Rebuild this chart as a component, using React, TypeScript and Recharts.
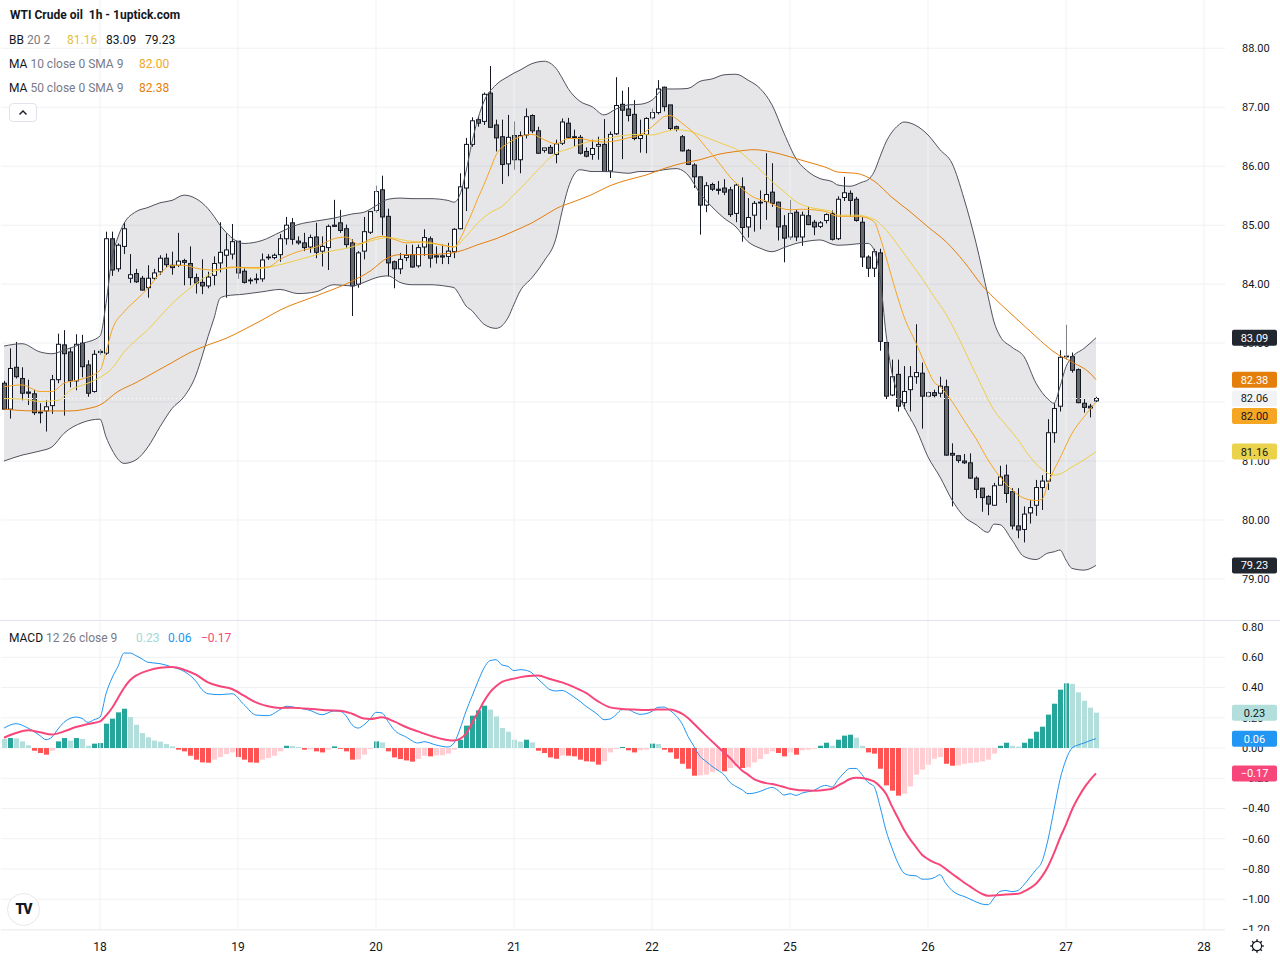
import React from 'react';
import { ComposedChart, Bar, Line, Area, XAxis, YAxis, CartesianGrid, ReferenceLine } from 'recharts';

// ---------- candles (hourly, index 0..182) ----------
const opens = [
  82.32, 81.88, 82.59, 82.40, 82.17, 82.14, 81.83, 81.85, 81.94, 82.38,
  82.97, 82.85, 82.36, 83.00, 82.63, 82.18, 82.86, 82.83, 84.77, 84.26,
  84.64, 84.10, 84.18, 84.10, 83.94, 84.10, 84.21, 84.44, 84.32, 84.32,
  84.40, 84.35, 84.11, 84.03, 83.97, 84.15, 84.36, 84.49, 84.51, 84.73,
  84.22, 84.07, 84.08, 84.09, 84.46, 84.45, 84.50, 84.77, 85.04, 84.73,
  84.70, 84.63, 84.80, 84.56, 84.62, 85.00, 85.04, 84.94, 84.70, 84.00,
  84.56, 84.88, 85.25, 85.60, 85.15, 84.38, 84.26, 84.45, 84.50, 84.31,
  84.63, 84.77, 84.48, 84.48, 84.47, 84.55, 84.94, 85.63, 86.37, 86.79,
  86.76, 87.24, 86.70, 86.50, 86.04, 86.52, 86.11, 86.53, 86.86, 86.60,
  86.27, 86.32, 86.20, 86.39, 86.73, 86.50, 86.49, 86.25, 86.20, 86.34,
  86.37, 85.92, 86.55, 87.05, 86.97, 86.88, 86.47, 86.54, 86.82, 86.91,
  87.34, 87.04, 86.67, 86.50, 86.27, 86.02, 85.82, 85.34, 85.69, 85.61,
  85.63, 85.60, 85.20, 85.65, 84.97, 85.17, 85.38, 85.40, 85.56, 85.39,
  84.99, 84.80, 85.22, 84.80, 85.16, 85.05, 84.98, 85.08, 85.20, 84.77,
  85.47, 85.54, 85.44, 85.05, 84.46, 84.27, 84.53, 83.01, 82.12, 82.47,
  81.99, 82.21, 82.43, 82.49, 82.10, 82.16, 82.15, 82.26, 81.13, 81.09,
  81.00, 80.97, 80.71, 80.54, 80.40, 80.25, 80.59, 80.76, 80.48, 79.90,
  79.84, 80.12, 80.25, 80.55, 80.66, 81.48, 81.93, 82.78, 82.77, 82.55,
  81.98, 81.93, 82.02,
];
const highs = [
  82.36, 82.91, 83.02, 82.59, 82.38, 82.21, 81.98, 82.03, 82.46, 83.16,
  83.22, 82.92, 83.15, 83.14, 82.71, 82.88, 82.90, 84.89, 84.89, 84.69,
  85.04, 84.51, 84.26, 84.14, 84.32, 84.26, 84.49, 84.52, 84.55, 84.87,
  84.43, 84.64, 84.18, 84.42, 84.21, 84.47, 85.05, 84.86, 85.02, 84.73,
  84.29, 84.11, 84.18, 84.52, 84.51, 84.52, 84.85, 85.14, 85.12, 84.81,
  84.87, 84.84, 85.04, 84.81, 85.01, 85.43, 85.26, 85.01, 84.76, 84.56,
  85.14, 85.24, 85.67, 85.84, 85.28, 84.40, 84.53, 84.67, 84.67, 84.67,
  84.93, 84.81, 84.64, 84.68, 84.70, 84.95, 85.88, 86.48, 86.83, 86.84,
  87.25, 87.70, 86.79, 86.79, 86.87, 86.76, 86.59, 86.98, 86.88, 86.67,
  86.31, 86.36, 86.45, 86.81, 86.82, 86.62, 86.53, 86.32, 86.45, 86.50,
  86.80, 86.59, 87.51, 87.28, 87.34, 87.12, 86.79, 86.83, 86.98, 87.46,
  87.35, 87.04, 86.69, 86.53, 86.29, 86.05, 85.82, 85.73, 85.72, 85.75,
  85.78, 85.65, 85.71, 85.81, 85.46, 85.41, 85.59, 86.22, 86.05, 85.40,
  85.17, 85.43, 85.26, 85.23, 85.31, 85.09, 85.07, 85.20, 85.25, 85.49,
  85.82, 85.59, 85.48, 85.14, 84.49, 84.60, 84.60, 83.01, 82.72, 82.72,
  82.61, 82.61, 83.32, 82.67, 82.18, 82.21, 82.43, 82.38, 81.30, 81.09,
  81.12, 81.13, 80.74, 80.54, 80.42, 80.63, 80.92, 80.94, 80.54, 80.54,
  80.23, 80.34, 80.68, 80.76, 81.71, 81.98, 82.88, 83.31, 82.84, 82.57,
  82.06, 81.97, 82.09,
];
const lows = [
  81.87, 81.72, 82.40, 82.03, 81.95, 81.78, 81.64, 81.50, 81.80, 82.32,
  81.77, 82.25, 82.20, 82.42, 82.09, 82.16, 82.80, 82.80, 84.14, 84.21,
  84.51, 84.02, 84.02, 83.89, 83.77, 84.07, 84.16, 84.29, 84.16, 84.29,
  83.98, 83.98, 83.84, 83.83, 83.93, 83.98, 84.20, 83.77, 84.42, 84.09,
  84.01, 84.00, 84.01, 84.04, 84.41, 84.42, 84.38, 84.67, 84.67, 84.67,
  84.56, 84.53, 84.44, 84.30, 84.24, 84.97, 84.87, 84.62, 83.46, 83.94,
  84.42, 84.85, 85.21, 84.83, 84.13, 83.93, 84.17, 84.39, 84.28, 84.28,
  84.48, 84.28, 84.35, 84.34, 84.34, 84.44, 84.93, 85.24, 86.33, 86.67,
  86.70, 86.65, 86.25, 85.70, 85.83, 85.94, 85.88, 86.47, 86.56, 86.21,
  86.23, 86.21, 86.05, 86.36, 86.47, 86.33, 86.20, 86.15, 86.11, 86.11,
  85.91, 85.80, 86.53, 86.12, 86.76, 86.44, 86.23, 86.22, 86.79, 86.88,
  86.93, 86.60, 86.59, 86.25, 86.02, 85.63, 84.84, 85.22, 85.58, 85.52,
  85.51, 85.14, 85.05, 84.72, 84.79, 84.89, 84.93, 85.09, 85.31, 84.74,
  84.37, 84.75, 84.73, 84.65, 85.00, 84.83, 84.95, 85.03, 84.74, 84.75,
  85.41, 85.14, 85.06, 84.29, 84.12, 84.12, 82.87, 82.05, 82.10, 81.84,
  81.88, 81.84, 82.31, 81.55, 82.08, 82.08, 82.08, 81.09, 80.23, 80.97,
  80.95, 80.70, 80.37, 80.14, 80.08, 80.24, 80.59, 80.29, 79.84, 79.69,
  79.62, 79.94, 80.07, 80.17, 80.51, 81.31, 81.84, 82.72, 82.50, 81.98,
  81.82, 81.74, 82.00,
];
const closes = [
  81.88, 82.57, 82.43, 82.15, 82.15, 81.82, 81.82, 81.92, 82.38, 82.98,
  82.82, 82.36, 82.98, 82.60, 82.15, 82.81, 82.84, 84.77, 84.24, 84.66,
  84.94, 84.16, 84.04, 83.90, 84.10, 84.19, 84.44, 84.33, 84.28, 84.39,
  84.37, 84.11, 84.02, 83.97, 84.12, 84.35, 84.54, 84.58, 84.72, 84.19,
  84.03, 84.06, 84.09, 84.41, 84.45, 84.49, 84.77, 85.00, 84.76, 84.70,
  84.62, 84.79, 84.54, 84.64, 84.98, 84.98, 84.91, 84.67, 83.97, 84.53,
  84.89, 85.23, 85.57, 85.14, 84.36, 84.26, 84.42, 84.49, 84.29, 84.62,
  84.79, 84.44, 84.46, 84.46, 84.56, 84.93, 85.65, 86.37, 86.77, 86.73,
  87.22, 86.66, 86.48, 86.03, 86.49, 86.11, 86.52, 86.84, 86.60, 86.22,
  86.31, 86.22, 86.38, 86.75, 86.49, 86.49, 86.22, 86.17, 86.30, 86.37,
  85.91, 86.54, 87.03, 86.95, 86.86, 86.47, 86.52, 86.81, 86.91, 87.31,
  87.01, 86.64, 86.63, 86.26, 86.03, 85.82, 85.34, 85.67, 85.61, 85.59,
  85.56, 85.18, 85.68, 84.96, 85.13, 85.37, 85.39, 85.52, 85.37, 84.97,
  84.78, 85.20, 84.80, 85.17, 85.01, 84.97, 85.04, 85.18, 84.76, 85.44,
  85.55, 85.42, 85.08, 84.46, 84.27, 84.55, 83.03, 82.10, 82.43, 81.93,
  82.18, 82.43, 82.50, 82.10, 82.16, 82.11, 82.27, 81.10, 81.10, 81.01,
  80.97, 80.71, 80.52, 80.38, 80.27, 80.58, 80.73, 80.45, 79.90, 79.83,
  80.10, 80.21, 80.55, 80.66, 81.48, 81.89, 82.76, 82.77, 82.54, 81.99,
  81.91, 81.90, 82.06,
];

// ---------- Bollinger bands (20, 2), read at these candle indices ----------
const bbIndex = [
  0, 3, 6, 8, 10, 13, 16, 17, 18, 19, 20, 22, 24, 26, 28, 30, 32, 33, 34, 35, 36, 37, 40, 43, 46, 49,
  52, 55, 58, 60, 62, 64, 66, 68, 71, 74, 75, 76, 77, 78, 79, 80, 82, 84, 85, 86, 88, 90, 92, 93, 94,
  96, 98, 100, 102, 104, 106, 108, 110, 112, 114, 116, 118, 120, 122, 124, 126, 128, 130, 132, 134,
  136, 138, 139, 141, 143, 144, 145, 146, 147, 148, 149, 150, 152, 154, 156, 158, 160, 162, 164, 165,
  166, 168, 170, 172, 174, 175, 176, 177, 178, 180, 182,
];
const bbUpper = [
  82.95, 82.99, 82.85, 82.82, 82.88, 82.99, 83.12, 83.67, 84.44, 84.80, 85.03, 85.23, 85.30, 85.38, 85.42, 85.51, 85.45, 85.38, 85.28, 85.15, 85.00, 84.88, 84.69, 84.74, 84.88, 85.01,
  85.07, 85.12, 85.19, 85.22, 85.33, 85.44, 85.46, 85.45, 85.45, 85.42, 85.39, 85.52, 85.91, 86.41, 86.81, 87.10, 87.38, 87.52, 87.58, 87.63, 87.74, 87.78, 87.66, 87.50, 87.32,
  87.10, 87.01, 86.87, 86.97, 87.04, 87.05, 87.12, 87.31, 87.31, 87.32, 87.44, 87.48, 87.55, 87.56, 87.46, 87.32, 87.04, 86.56, 86.13, 85.91,
  85.79, 85.74, 85.68, 85.66, 85.73, 85.77, 85.90, 86.16, 86.41, 86.58, 86.69, 86.75, 86.69, 86.53, 86.28, 86.05, 85.45, 84.70, 83.80, 83.36,
  83.12, 82.93, 82.77, 82.32, 82.05, 81.98, 82.26, 82.60, 82.76, 82.91, 83.09,
];
const bbLower = [
  81.00, 81.10, 81.17, 81.24, 81.47, 81.65, 81.71, 81.41, 81.19, 81.03, 80.96, 81.02, 81.24, 81.58, 81.89, 82.09, 82.46, 82.77, 83.11, 83.42, 83.76, 83.80, 83.83, 83.87, 83.91, 83.84,
  83.87, 83.99, 83.97, 84.03, 84.11, 84.14, 84.03, 83.99, 83.99, 83.96, 83.94, 83.80, 83.63, 83.55, 83.43, 83.32, 83.25, 83.43, 83.66, 83.88, 84.11, 84.39, 84.78, 85.23, 85.62,
  85.94, 85.91, 85.91, 85.90, 85.88, 85.91, 85.91, 85.94, 85.96, 85.85, 85.54, 85.31, 85.12, 84.97, 84.72, 84.61, 84.55, 84.62, 84.69, 84.73,
  84.75, 84.68, 84.66, 84.67, 84.69, 84.69, 84.58, 84.12, 83.16, 82.49, 82.15, 81.92, 81.55, 81.07, 80.73, 80.34, 80.06, 79.92, 79.79, 79.93,
  79.92, 79.66, 79.38, 79.33, 79.44, 79.46, 79.49, 79.32, 79.18, 79.15, 79.23,
];
const bbBasisPts = [
  [0, 82.06], [3, 82.05], [6, 82.01], [9, 82.03], [11, 82.20], [14, 82.32], [16, 82.42], [18, 82.57], [20, 82.85], [22, 83.05],
  [24, 83.23], [26, 83.45], [28, 83.67], [30, 83.85], [32, 84.01], [34, 84.15], [36, 84.25], [39, 84.28], [42, 84.26], [46, 84.33],
  [50, 84.44], [54, 84.55], [58, 84.63], [61, 84.73], [64, 84.79], [67, 84.74], [70, 84.70], [73, 84.67], [75, 84.63], [77, 84.81],
  [79, 85.04], [81, 85.21], [83, 85.32], [85, 85.52], [87, 85.72], [89, 85.94], [92, 86.22], [94, 86.29], [96, 86.37], [98, 86.43],
  [100, 86.46], [102, 86.50], [104, 86.53], [106, 86.54], [108, 86.53], [110, 86.58], [112, 86.62], [114, 86.60], [116, 86.53],
  [118, 86.45], [120, 86.37], [122, 86.29], [124, 86.13], [126, 85.94], [128, 85.74], [130, 85.57], [132, 85.40], [134, 85.31],
  [136, 85.27], [138, 85.23], [139, 85.17], [142, 85.17], [145, 85.10], [147, 84.92], [149, 84.66], [151, 84.38], [153, 84.10],
  [155, 83.79], [157, 83.49], [159, 83.11], [161, 82.68], [163, 82.26], [165, 81.86], [167, 81.61], [169, 81.36], [171, 81.07],
  [173, 80.86], [175, 80.76], [176, 80.78], [178, 80.90], [180, 81.02], [182, 81.16],
];

// ---------- moving averages ----------
const ma10Pts = [
  [0, 82.26], [3, 82.29], [6, 82.18], [8, 82.18], [10, 82.32], [13, 82.39], [16, 82.54], [17, 82.85], [18, 83.22], [20, 83.53],
  [22, 83.73], [24, 83.93], [26, 84.18], [28, 84.32], [30, 84.32], [32, 84.27], [35, 84.24], [38, 84.29], [41, 84.28], [44, 84.29],
  [46, 84.42], [49, 84.55], [52, 84.63], [55, 84.77], [57, 84.80], [59, 84.68], [61, 84.76], [63, 84.81], [65, 84.76], [67, 84.70],
  [70, 84.72], [73, 84.66], [75, 84.63], [76, 84.76], [77, 84.98], [78, 85.21], [79, 85.46], [80, 85.69], [81, 85.94], [82, 86.19],
  [84, 86.39], [86, 86.50], [88, 86.54], [90, 86.45], [92, 86.38], [94, 86.47], [96, 86.47], [98, 86.43], [100, 86.41], [102, 86.43],
  [104, 86.48], [106, 86.53], [108, 86.67], [109, 86.76], [110, 86.84], [111, 86.86], [112, 86.81], [113, 86.73], [115, 86.56],
  [117, 86.32], [119, 86.08], [121, 85.82], [123, 85.62], [125, 85.47], [127, 85.41], [129, 85.31], [131, 85.26], [133, 85.27],
  [135, 85.26], [137, 85.23], [139, 85.15], [141, 85.15], [143, 85.14], [145, 85.06], [146, 84.80], [147, 84.46], [148, 84.10],
  [149, 83.76], [150, 83.45], [152, 83.00], [154, 82.54], [155, 82.34], [156, 82.26], [158, 82.01], [160, 81.69], [162, 81.38],
  [164, 81.02], [166, 80.73], [168, 80.51], [170, 80.37], [172, 80.33], [173, 80.35], [174, 80.62], [175, 80.85], [176, 81.05],
  [178, 81.47], [180, 81.75], [182, 82.00],
];
const ma50Pts = [
  [0, 81.88], [5, 81.85], [11, 81.85], [14, 81.89], [16, 81.95], [19, 82.18], [22, 82.33], [25, 82.50], [28, 82.67], [31, 82.84],
  [34, 82.97], [37, 83.08], [40, 83.23], [43, 83.39], [46, 83.56], [52, 83.80], [58, 84.05], [61, 84.22], [64, 84.45], [66, 84.50],
  [70, 84.50], [74, 84.52], [76, 84.56], [79, 84.67], [82, 84.77], [85, 84.90], [88, 85.04], [91, 85.22], [92, 85.28], [95, 85.40],
  [98, 85.52], [101, 85.67], [104, 85.77], [107, 85.85], [110, 85.96], [113, 86.05], [116, 86.11], [119, 86.20], [122, 86.25],
  [125, 86.28], [128, 86.24], [131, 86.16], [134, 86.07], [137, 85.98], [139, 85.90], [142, 85.88], [145, 85.75], [148, 85.47],
  [151, 85.23], [154, 84.97], [157, 84.72], [160, 84.38], [163, 83.98], [166, 83.67], [169, 83.39], [172, 83.11], [175, 82.85],
  [178, 82.68], [181, 82.49], [182, 82.38],
];

// ---------- MACD (12, 26, 9) ----------
const histogram = [
  0.060, 0.066, 0.064, 0.044, 0.018, -0.018, -0.033, -0.044, -0.018, 0.044,
  0.066, 0.049, 0.066, 0.060, 0.015, 0.029, 0.033, 0.161, 0.194, 0.236,
  0.260, 0.205, 0.154, 0.099, 0.071, 0.049, 0.042, 0.026, 0.011, -0.011,
  -0.022, -0.051, -0.077, -0.095, -0.097, -0.077, -0.060, -0.040, -0.029, -0.060,
  -0.077, -0.095, -0.097, -0.077, -0.066, -0.051, -0.022, 0.015, 0.013, 0.007,
  -0.011, -0.009, -0.022, -0.029, -0.011, 0.011, -0.004, -0.022, -0.077, -0.075,
  -0.044, -0.007, 0.044, 0.037, -0.022, -0.062, -0.073, -0.082, -0.090, -0.073,
  -0.051, -0.055, -0.049, -0.048, -0.037, -0.011, 0.055, 0.148, 0.214, 0.249,
  0.280, 0.254, 0.209, 0.132, 0.108, 0.055, 0.042, 0.055, 0.037, -0.018,
  -0.033, -0.062, -0.071, -0.049, -0.051, -0.055, -0.077, -0.088, -0.090, -0.110,
  -0.088, -0.029, -0.007, 0.007, -0.015, -0.029, -0.015, -0.011, 0.029, 0.027,
  -0.011, -0.029, -0.071, -0.104, -0.137, -0.183, -0.181, -0.176, -0.159, -0.150,
  -0.154, -0.132, -0.122, -0.132, -0.128, -0.095, -0.073, -0.040, -0.022, -0.033,
  -0.055, -0.029, -0.044, -0.015, -0.011, -0.004, 0.015, 0.035, 0.015, 0.055,
  0.082, 0.088, 0.068, 0.015, -0.029, -0.037, -0.137, -0.247, -0.282, -0.315,
  -0.302, -0.254, -0.176, -0.143, -0.110, -0.071, -0.060, -0.104, -0.117, -0.115,
  -0.104, -0.099, -0.095, -0.088, -0.077, -0.037, 0.015, 0.035, 0.015, 0.009,
  0.035, 0.062, 0.108, 0.141, 0.221, 0.293, 0.386, 0.428, 0.424, 0.368,
  0.313, 0.267, 0.234,
];
const macdPts = [
  [0, 0.132], [2, 0.161], [4, 0.132], [6, 0.082], [7, 0.055], [8, 0.073], [9, 0.126], [10, 0.170], [12, 0.205], [13, 0.196],
  [14, 0.170], [15, 0.187], [16, 0.205], [17, 0.359], [18, 0.463], [19, 0.540], [20, 0.628], [21, 0.628], [22, 0.611], [23, 0.589],
  [24, 0.567], [26, 0.558], [28, 0.536], [30, 0.507], [32, 0.441], [33, 0.386], [34, 0.359], [36, 0.353], [38, 0.359], [40, 0.287],
  [42, 0.218], [44, 0.214], [46, 0.254], [47, 0.276], [49, 0.265], [51, 0.249], [53, 0.220], [55, 0.245], [56, 0.243], [57, 0.214],
  [58, 0.154], [59, 0.132], [60, 0.154], [61, 0.192], [62, 0.236], [63, 0.232], [64, 0.176], [65, 0.121], [67, 0.073], [69, 0.033],
  [70, 0.042], [72, 0.020], [74, 0.007], [75, 0.033], [76, 0.126], [77, 0.243], [78, 0.342], [79, 0.441], [80, 0.529], [81, 0.578],
  [82, 0.584], [83, 0.549], [84, 0.540], [85, 0.512], [86, 0.518], [87, 0.514], [88, 0.496], [89, 0.456], [90, 0.419], [91, 0.386],
  [92, 0.377], [93, 0.381], [94, 0.364], [95, 0.337], [96, 0.309], [97, 0.276], [98, 0.249], [99, 0.220], [100, 0.187], [101, 0.192],
  [102, 0.220], [103, 0.254], [104, 0.254], [105, 0.236], [106, 0.223], [107, 0.227], [108, 0.243], [109, 0.269], [110, 0.271],
  [111, 0.249], [112, 0.214], [113, 0.161], [114, 0.077], [115, 0.011], [116, -0.055], [117, -0.088], [118, -0.121], [119, -0.148],
  [120, -0.176], [121, -0.227], [122, -0.254], [123, -0.276], [124, -0.302], [125, -0.298], [126, -0.287], [127, -0.271],
  [128, -0.260], [129, -0.280], [130, -0.311], [131, -0.302], [132, -0.313], [133, -0.298], [134, -0.289], [135, -0.280],
  [136, -0.258], [137, -0.247], [138, -0.258], [139, -0.209], [140, -0.165], [141, -0.135], [142, -0.135], [143, -0.176],
  [144, -0.227], [145, -0.254], [146, -0.386], [147, -0.545], [148, -0.662], [149, -0.761], [150, -0.827], [151, -0.842],
  [152, -0.845], [153, -0.867], [154, -0.867], [155, -0.858], [156, -0.838], [157, -0.897], [158, -0.942], [159, -0.968],
  [160, -0.981], [161, -0.999], [162, -1.017], [163, -1.032], [164, -1.036], [165, -0.992], [166, -0.948], [167, -0.942],
  [168, -0.950], [169, -0.942], [170, -0.904], [171, -0.854], [172, -0.805], [173, -0.750], [174, -0.606], [175, -0.408],
  [176, -0.209], [177, -0.077], [178, 0.000], [179, 0.020], [180, 0.033], [181, 0.049], [182, 0.062],
];
const signalPts = [
  [0, 0.068], [2, 0.099], [4, 0.117], [6, 0.104], [8, 0.090], [10, 0.110], [12, 0.139], [14, 0.159], [16, 0.176], [17, 0.214],
  [18, 0.265], [19, 0.331], [20, 0.397], [21, 0.448], [22, 0.479], [24, 0.512], [26, 0.531], [28, 0.536], [30, 0.518], [32, 0.485],
  [34, 0.434], [36, 0.408], [38, 0.390], [40, 0.346], [42, 0.302], [44, 0.276], [46, 0.265], [48, 0.267], [50, 0.262], [52, 0.256],
  [54, 0.249], [56, 0.247], [58, 0.227], [60, 0.195], [61, 0.192], [63, 0.203], [65, 0.176], [67, 0.139], [69, 0.110], [71, 0.082],
  [73, 0.060], [75, 0.049], [76, 0.060], [77, 0.095], [78, 0.165], [79, 0.236], [80, 0.309], [81, 0.368], [82, 0.408], [83, 0.437],
  [85, 0.459], [87, 0.474], [89, 0.479], [91, 0.456], [93, 0.434], [95, 0.403], [97, 0.364], [99, 0.309], [101, 0.269], [103, 0.258],
  [105, 0.254], [107, 0.251], [109, 0.254], [111, 0.254], [112, 0.245], [113, 0.227], [114, 0.198], [115, 0.161], [116, 0.121],
  [117, 0.082], [118, 0.044], [119, 0.007], [120, -0.029], [121, -0.066], [122, -0.110], [123, -0.148], [124, -0.176],
  [125, -0.205], [126, -0.221], [127, -0.232], [128, -0.238], [129, -0.247], [130, -0.258], [131, -0.269], [132, -0.276],
  [133, -0.280], [135, -0.282], [137, -0.276], [138, -0.269], [139, -0.249], [140, -0.227], [141, -0.205], [142, -0.196],
  [143, -0.198], [144, -0.207], [145, -0.221], [146, -0.254], [147, -0.302], [148, -0.386], [149, -0.463], [150, -0.540],
  [151, -0.602], [152, -0.655], [153, -0.706], [154, -0.734], [155, -0.756], [156, -0.772], [157, -0.801], [158, -0.831],
  [159, -0.860], [160, -0.889], [161, -0.915], [162, -0.942], [163, -0.964], [164, -0.977], [165, -0.975], [167, -0.968],
  [169, -0.964], [170, -0.948], [171, -0.926], [172, -0.897], [173, -0.849], [174, -0.783], [175, -0.695], [176, -0.595],
  [177, -0.507], [178, -0.408], [179, -0.331], [180, -0.265], [181, -0.212], [182, -0.168],
];

// ---------- axes ----------
const dayTicks = [16, 39, 62, 85, 108, 131, 154, 177, 200];
const dayLabels = ['18', '19', '20', '21', '22', '25', '26', '27', '28'];
const priceTicks = [79, 80, 81, 82, 83, 84, 85, 86, 87, 88];
const macdTicks = [0.8, 0.6, 0.4, 0.2, 0, -0.2, -0.4, -0.6, -0.8, -1.0, -1.2];

// ---------- table for recharts ----------
type Row = { [k: string]: any };
const rows: Row[] = closes.map((c, i) => ({
  i,
  o: opens[i],
  h: highs[i],
  l: lows[i],
  c,
  range: [lows[i], highs[i]],
  hist: histogram[i],
}));
bbIndex.forEach((idx, k) => {
  rows[idx].upper = bbUpper[k];
  rows[idx].lower = bbLower[k];
  rows[idx].band = [bbLower[k], bbUpper[k]];
});
const place = (pts: number[][], key: string) => pts.forEach(([idx, v]) => { rows[idx][key] = v; });
place(bbBasisPts, 'basis');
place(ma10Pts, 'ma10');
place(ma50Pts, 'ma50');
place(macdPts, 'macd');
place(signalPts, 'signal');

// ---------- styling ----------
const INK = '#131722';
const GRID = '#eff1f4';
const FONT = 'Roboto, "Open Sans", sans-serif';
const C_MA10 = '#f5a623';
const C_MA50 = '#e47f0c';
const C_BASIS = '#efcf4b';
const C_MACD = '#2196f3';
const C_SIGNAL = '#f7477a';
const X_DOMAIN: [number, number] = [-0.5, 203.5];
const PRICE_DOMAIN: [number, number] = [78.304, 88.819];
const MACD_DOMAIN: [number, number] = [-1.2033, 0.8466];

const dayLabelOf = (v: number) => {
  const k = dayTicks.indexOf(v);
  return k >= 0 ? dayLabels[k] : '';
};
const fmtMacd = (v: number) => (v < -1e-9 ? '\u2212' : '') + Math.abs(v).toFixed(2);

const Candle = (props: any) => {
  const { x, y, width, height, payload } = props;
  if (!payload || payload.o == null || x == null || y == null) return null;
  const { o, h, l, c } = payload;
  const top = Math.min(y, y + height);
  const span = Math.abs(height);
  const yOf = (v: number) => top + ((h - v) / (h - l)) * span;
  const cx = Math.round(x + width / 2);
  const bTop = yOf(Math.max(o, c));
  const bBot = yOf(Math.min(o, c));
  return (
    <g>
      <line x1={cx + 0.5} x2={cx + 0.5} y1={top} y2={top + span} stroke={INK} strokeWidth={1} />
      <rect x={cx - 1.5} y={bTop} width={4} height={Math.max(bBot - bTop, 0.8)} fill={c >= o ? '#ffffff' : '#6a6a6a'} stroke={INK} strokeWidth={1} />
    </g>
  );
};

const HistBar = (props: any) => {
  const { x, y, width, height, payload } = props;
  if (!payload || payload.hist == null || x == null || y == null) return null;
  const v = payload.hist;
  const prev = payload.i > 0 ? histogram[payload.i - 1] : v;
  let fill: string;
  if (v >= 0) fill = v > prev ? '#26a69a' : '#b2dfdb';
  else fill = v < prev ? '#ff5252' : '#ffcdd2';
  const cx = Math.round(x + width / 2);
  const top = Math.min(y, y + height);
  return <rect x={cx - 2} y={top} width={5} height={Math.max(Math.abs(height), 0.8)} fill={fill} />;
};

const Tag = (props: any) => {
  const { viewBox, text, bg, fg, shift = 0 } = props;
  if (!viewBox) return null;
  const left = viewBox.x + viewBox.width + 7;
  const cy = viewBox.y + shift;
  return (
    <g>
      <rect x={left} y={cy - 8} width={45} height={16} rx={2} fill={bg} />
      <text x={left + 22.5} y={cy} dy="0.36em" textAnchor="middle" fontSize={11} fill={fg} fontFamily={FONT}>{text}</text>
    </g>
  );
};

const legendRow: React.CSSProperties = { position: 'absolute', fontSize: 12, lineHeight: '16px', whiteSpace: 'pre' };
const gray = '#787b86';
const layer: React.CSSProperties = { position: 'absolute', left: 0 };
const MARGIN = { top: 0, right: 0, bottom: 0, left: 1 };

const dayGrid = () =>
  dayTicks.map((d) => <ReferenceLine key={`d${d}`} x={d} stroke={GRID} strokeWidth={1} />);

export default function App() {
  return (
    <div style={{ position: 'absolute', left: 0, top: 0, width: 1280, height: 960, background: '#ffffff', overflow: 'hidden', fontFamily: FONT, color: INK }}>
      {/* price pane */}
      <div style={{ ...layer, top: 0 }}>
        <ComposedChart width={1280} height={620} data={rows} margin={MARGIN}>
          <CartesianGrid stroke={GRID} vertical={false} horizontalValues={priceTicks} />
          <XAxis dataKey="i" type="number" domain={X_DOMAIN} allowDataOverflow ticks={dayTicks} interval={0} height={0} tick={false} axisLine={false} tickLine={false} stroke="none" />
          <YAxis orientation="right" width={55} domain={PRICE_DOMAIN} allowDataOverflow ticks={priceTicks} tickFormatter={(v: number) => v.toFixed(2)} axisLine={false} tickLine={false} stroke="none" tickSize={0} tickMargin={17} tick={{ fill: INK, fontSize: 11, fontFamily: FONT }} />
          {dayGrid()}
          <Area dataKey="band" type="monotone" connectNulls stroke="none" fill="#787b86" fillOpacity={0.19} isAnimationActive={false} />
          <ReferenceLine y={82.06} stroke="#ffffff" strokeDasharray="1 3" />
          <Bar dataKey="range" barSize={4} shape={<Candle />} isAnimationActive={false} />
          <Line dataKey="upper" type="monotone" connectNulls stroke="#50535e" strokeWidth={1} dot={false} isAnimationActive={false} />
          <Line dataKey="lower" type="monotone" connectNulls stroke="#50535e" strokeWidth={1} dot={false} isAnimationActive={false} />
          <Line dataKey="basis" type="monotone" connectNulls stroke={C_BASIS} strokeWidth={1} dot={false} isAnimationActive={false} />
          <Line dataKey="ma50" type="monotone" connectNulls stroke={C_MA50} strokeWidth={1} dot={false} isAnimationActive={false} />
          <Line dataKey="ma10" type="monotone" connectNulls stroke={C_MA10} strokeWidth={1} dot={false} isAnimationActive={false} />
        </ComposedChart>
      </div>
      {/* price tags drawn above the axis labels */}
      <div style={{ ...layer, top: 0 }}>
        <ComposedChart width={1280} height={620} data={rows} margin={MARGIN}>
          <XAxis dataKey="i" type="number" domain={X_DOMAIN} allowDataOverflow height={0} tick={false} axisLine={false} tickLine={false} stroke="none" />
          <YAxis orientation="right" width={55} domain={PRICE_DOMAIN} allowDataOverflow tick={false} axisLine={false} tickLine={false} stroke="none" />
          <ReferenceLine y={83.09} stroke="none" label={<Tag text="83.09" bg="#22262f" fg="#ffffff" />} />
          <ReferenceLine y={82.38} stroke="none" label={<Tag text="82.38" bg={C_MA50} fg="#ffffff" />} />
          <ReferenceLine y={82.06} stroke="none" label={<Tag text="82.06" bg="#f2f3f5" fg={INK} />} />
          <ReferenceLine y={82.0} stroke="none" label={<Tag text="82.00" bg={C_MA10} fg={INK} shift={14} />} />
          <ReferenceLine y={81.16} stroke="none" label={<Tag text="81.16" bg="#ead34a" fg={INK} />} />
          <ReferenceLine y={79.23} stroke="none" label={<Tag text="79.23" bg="#22262f" fg="#ffffff" />} />
        </ComposedChart>
      </div>

      {/* MACD pane + time axis */}
      <div style={{ ...layer, top: 620 }}>
        <ComposedChart width={1280} height={340} data={rows} margin={MARGIN}>
          <CartesianGrid stroke={GRID} vertical={false} horizontalValues={macdTicks} />
          <XAxis dataKey="i" type="number" domain={X_DOMAIN} allowDataOverflow ticks={dayTicks} interval={0} tickFormatter={dayLabelOf} height={30} axisLine={{ stroke: '#eceef1' }} tickLine={false} tickSize={0} tickMargin={12} tick={{ fill: INK, fontSize: 12, fontFamily: FONT }} />
          <YAxis orientation="right" width={55} domain={MACD_DOMAIN} allowDataOverflow ticks={macdTicks} tickFormatter={fmtMacd} axisLine={false} tickLine={false} stroke="none" tickSize={0} tickMargin={17} tick={{ fill: INK, fontSize: 11, fontFamily: FONT }} />
          {dayGrid()}
          <Bar dataKey="hist" barSize={4} shape={<HistBar />} isAnimationActive={false} />
          <Line dataKey="macd" type="monotone" connectNulls stroke={C_MACD} strokeWidth={1} dot={false} isAnimationActive={false} />
          <Line dataKey="signal" type="monotone" connectNulls stroke={C_SIGNAL} strokeWidth={2} dot={false} isAnimationActive={false} />
        </ComposedChart>
      </div>
      {/* hide the part of the lowest MACD label that falls below the pane, as in the reference */}
      <div style={{ position: 'absolute', left: 1226, top: 931, width: 54, height: 9, background: '#ffffff' }} />
      {/* MACD tags above the axis labels */}
      <div style={{ ...layer, top: 620 }}>
        <ComposedChart width={1280} height={340} data={rows} margin={MARGIN}>
          <XAxis dataKey="i" type="number" domain={X_DOMAIN} allowDataOverflow height={30} tick={false} axisLine={false} tickLine={false} stroke="none" />
          <YAxis orientation="right" width={55} domain={MACD_DOMAIN} allowDataOverflow tick={false} axisLine={false} tickLine={false} stroke="none" />
          <ReferenceLine y={0.234} stroke="none" label={<Tag text="0.23" bg="#b2dfdb" fg={INK} />} />
          <ReferenceLine y={0.062} stroke="none" label={<Tag text="0.06" bg={C_MACD} fg="#ffffff" />} />
          <ReferenceLine y={-0.168} stroke="none" label={<Tag text={'\u22120.17'} bg={C_SIGNAL} fg="#ffffff" />} />
        </ComposedChart>
      </div>

      {/* pane separator */}
      <div style={{ position: 'absolute', left: 0, top: 620, width: 1280, height: 1, background: '#e0e3eb' }} />

      {/* title & legends */}
      <div style={{ ...legendRow, left: 10, top: 7, fontWeight: 700 }}>{'WTI Crude oil  1h - 1uptick.com'}</div>
      <div style={{ ...legendRow, left: 9, top: 32 }}>BB <span style={{ color: gray }}>20 2</span></div>
      <div style={{ ...legendRow, left: 67, top: 32, color: '#e3c23d' }}>81.16</div>
      <div style={{ ...legendRow, left: 106, top: 32 }}>83.09</div>
      <div style={{ ...legendRow, left: 145, top: 32 }}>79.23</div>
      <div style={{ ...legendRow, left: 9, top: 56 }}>MA <span style={{ color: gray }}>10 close 0 SMA 9</span></div>
      <div style={{ ...legendRow, left: 139, top: 56, color: C_MA10 }}>82.00</div>
      <div style={{ ...legendRow, left: 9, top: 80 }}>MA <span style={{ color: gray }}>50 close 0 SMA 9</span></div>
      <div style={{ ...legendRow, left: 139, top: 80, color: C_MA50 }}>82.38</div>
      <div style={{ position: 'absolute', left: 9, top: 103, width: 26, height: 17, border: '1px solid #e0e3eb', borderRadius: 4, background: '#fff' }}>
        <svg width={26} height={17} style={{ display: 'block' }}>
          <polyline points="9.5,10.5 13,7 16.5,10.5" fill="none" stroke={INK} strokeWidth={1.4} />
        </svg>
      </div>

      <div style={{ ...legendRow, left: 9, top: 630 }}>MACD <span style={{ color: gray }}>12 26 close 9</span></div>
      <div style={{ ...legendRow, left: 136, top: 630, color: '#a3d9d2' }}>0.23</div>
      <div style={{ ...legendRow, left: 168, top: 630, color: C_MACD }}>0.06</div>
      <div style={{ ...legendRow, left: 201, top: 630, color: C_SIGNAL }}>{'\u22120.17'}</div>

      {/* logo & settings */}
      <div style={{ position: 'absolute', left: 7, top: 893, width: 31, height: 31, borderRadius: 17, border: '1px solid #e6e8ec', background: '#ffffff', textAlign: 'center', lineHeight: '31px', fontWeight: 900, fontSize: 14, letterSpacing: -1 }}>TV</div>
      <svg style={{ position: 'absolute', left: 1249, top: 938 }} width={16} height={16}>
        <circle cx={8} cy={8} r={4.6} fill="none" stroke={INK} strokeWidth={1.2} />
        {[0, 45, 90, 135, 180, 225, 270, 315].map((a) => (
          <line key={a} x1={8} y1={1.2} x2={8} y2={3.6} stroke={INK} strokeWidth={1.4} transform={`rotate(${a} 8 8)`} />
        ))}
      </svg>
    </div>
  );
}
